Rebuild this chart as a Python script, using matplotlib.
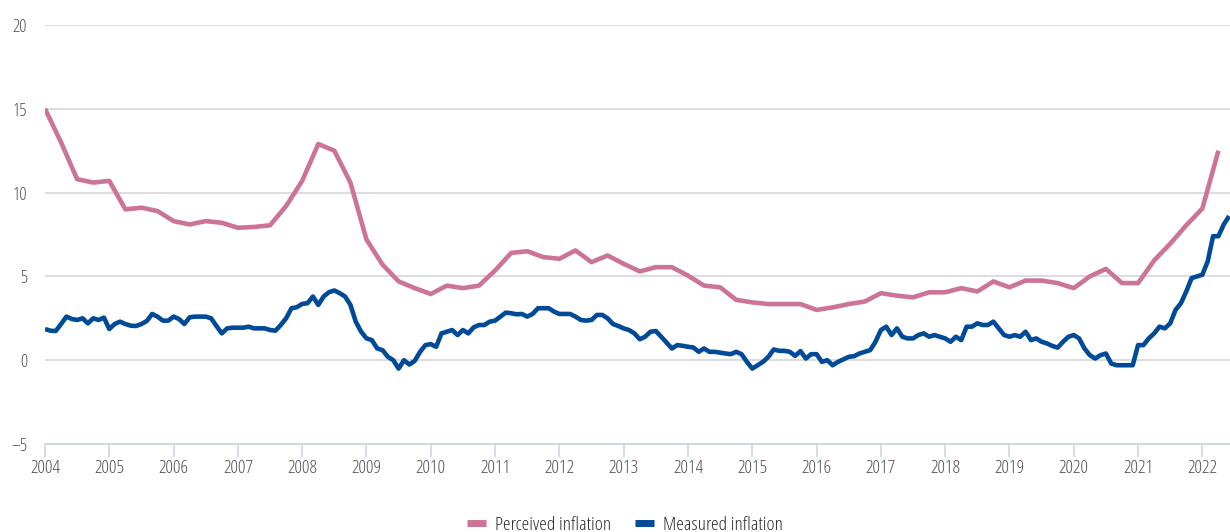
import numpy as np
import matplotlib
matplotlib.use("Agg")
import matplotlib.pyplot as plt

# ---- data ----
years = list(range(2004, 2023))
y_ticks = [-5, 0, 5, 10, 15, 20]

# Perceived inflation, quarterly, starting 2004 Q1 (2004.00 .. 2022.25)
perceived = [
    15.0, 13.0, 10.8, 10.6,
    10.7, 9.0, 9.1, 8.9,
    8.3, 8.1, 8.3, 8.2,
    7.9, 7.95, 8.05, 9.2,
    10.7, 12.9, 12.5, 10.6,
    7.2, 5.7, 4.7, 4.3,
    3.95, 4.45, 4.3, 4.45,
    5.35, 6.4, 6.5, 6.15,
    6.05, 6.55, 5.85, 6.25,
    5.75, 5.3, 5.55, 5.55,
    5.05, 4.45, 4.35, 3.6,
    3.45, 3.35, 3.35, 3.35,
    3.0, 3.15, 3.35, 3.5,
    4.0, 3.85, 3.75, 4.05,
    4.05, 4.3, 4.1, 4.7,
    4.35, 4.75, 4.75, 4.6,
    4.3, 5.0, 5.45, 4.6,
    4.6, 5.95, 6.95, 8.05,
    9.05, 12.5,
]

# Measured inflation, monthly, starting January 2004
measured = [
    1.86, 1.76, 1.74, 2.16, 2.6, 2.46, 2.4, 2.5, 2.2, 2.5, 2.4, 2.54,      # 2004
    1.86, 2.16, 2.3, 2.16, 2.06, 2.04, 2.16, 2.34, 2.76, 2.6, 2.36, 2.36,  # 2005
    2.6, 2.46, 2.16, 2.56, 2.6, 2.6, 2.6, 2.5, 2.04, 1.6, 1.9, 1.94,       # 2006
    1.94, 1.94, 2.0, 1.9, 1.9, 1.9, 1.8, 1.76, 2.1, 2.5, 3.1, 3.16,        # 2007
    3.36, 3.4, 3.8, 3.3, 3.8, 4.06, 4.16, 4.0, 3.8, 3.3, 2.3, 1.7,         # 2008
    1.3, 1.2, 0.7, 0.6, 0.2, 0.0, -0.5, 0.0, -0.26, -0.04, 0.5, 0.9,      # 2009
    0.96, 0.8, 1.6, 1.7, 1.8, 1.5, 1.8, 1.6, 1.96, 2.1, 2.1, 2.3,         # 2010
    2.36, 2.6, 2.84, 2.8, 2.74, 2.76, 2.6, 2.76, 3.1, 3.1, 3.1, 2.9,      # 2011
    2.76, 2.76, 2.76, 2.6, 2.4, 2.36, 2.4, 2.7, 2.7, 2.5, 2.16, 2.04,     # 2012
    1.9, 1.8, 1.6, 1.25, 1.4, 1.7, 1.74, 1.4, 1.05, 0.7, 0.9, 0.86,       # 2013
    0.8, 0.76, 0.5, 0.7, 0.5, 0.5, 0.45, 0.4, 0.36, 0.5, 0.36, -0.1,      # 2014
    -0.5, -0.3, -0.1, 0.2, 0.64, 0.56, 0.56, 0.5, 0.26, 0.54, 0.1, 0.36,  # 2015
    0.36, -0.1, 0.0, -0.3, -0.1, 0.05, 0.2, 0.24, 0.4, 0.5, 0.6, 1.1,     # 2016
    1.8, 2.0, 1.5, 1.9, 1.4, 1.3, 1.3, 1.5, 1.6, 1.4, 1.5, 1.4,           # 2017
    1.3, 1.1, 1.4, 1.2, 2.0, 2.0, 2.2, 2.1, 2.1, 2.3, 1.9, 1.5,           # 2018
    1.4, 1.5, 1.4, 1.7, 1.2, 1.3, 1.1, 1.0, 0.85, 0.75, 1.1, 1.4,         # 2019
    1.5, 1.3, 0.7, 0.3, 0.1, 0.3, 0.4, -0.2, -0.3, -0.3, -0.3, -0.3,      # 2020
    0.9, 0.9, 1.3, 1.6, 2.0, 1.9, 2.2, 3.0, 3.4, 4.1, 4.9, 5.0,           # 2021
    5.1, 5.9, 7.4, 7.4, 8.1, 8.6,                                          # 2022
]

legend_labels = ["Perceived inflation", "Measured inflation"]

# ---- styling ----
PINK = "#CC7498"
BLUE = "#004A98"
GRID = "#DADADA"
AXIS = "#C8D5E3"
TXT = "#4E4E4E"
FONT = ["Open Sans", "DejaVu Sans"]

plt.rcParams["font.family"] = FONT
plt.rcParams["font.stretch"] = "condensed"

x_perc = 2004 + np.arange(len(perceived)) / 4.0
x_meas = 2004 + np.arange(len(measured)) / 12.0

fig = plt.figure(figsize=(12.30, 5.32), dpi=100)
ax = fig.add_axes([45 / 1230, 1 - 444 / 532, 1 - 45 / 1230, (444 - 25) / 532])

ax.plot(x_perc, perceived, color=PINK, lw=3.3, solid_joinstyle="round",
        solid_capstyle="butt", label=legend_labels[0], zorder=3)
ax.plot(x_meas, measured, color=BLUE, lw=3.3, solid_joinstyle="round",
        solid_capstyle="butt", label=legend_labels[1], zorder=4)

ax.set_xlim(2004, 2022.43)
ax.set_ylim(-5, 20)

ax.set_yticks(y_ticks)
ax.set_yticklabels([str(v) if v >= 0 else "\u2013" + str(-v) for v in y_ticks])
ax.set_xticks(years)
ax.set_xticklabels([str(y) for y in years])

for v in y_ticks[1:]:
    ax.axhline(v, color=GRID, lw=1.3, zorder=1)

for s in ["top", "right", "left"]:
    ax.spines[s].set_visible(False)
ax.spines["bottom"].set_color(AXIS)
ax.spines["bottom"].set_linewidth(1.3)

ax.tick_params(axis="y", length=0, pad=13, labelsize=13, labelcolor=TXT)
ax.tick_params(axis="x", length=9, width=1.1, color=AXIS, pad=2,
               labelsize=13.5, labelcolor=TXT)
for lab in ax.get_yticklabels() + ax.get_xticklabels():
    lab.set_family(FONT)
    lab.set_stretch("condensed")

leg = fig.legend(loc="lower center", bbox_to_anchor=(0.508, -0.036), ncol=2,
                 frameon=False, handlelength=1.0,
                 handletextpad=0.45, columnspacing=1.2,
                 prop={"family": FONT, "stretch": "condensed", "size": 14})
for h in leg.legend_handles:
    h.set_linewidth(5)
for t in leg.get_texts():
    t.set_color("#2E2E2E")

fig.savefig("out.png", dpi=100)
